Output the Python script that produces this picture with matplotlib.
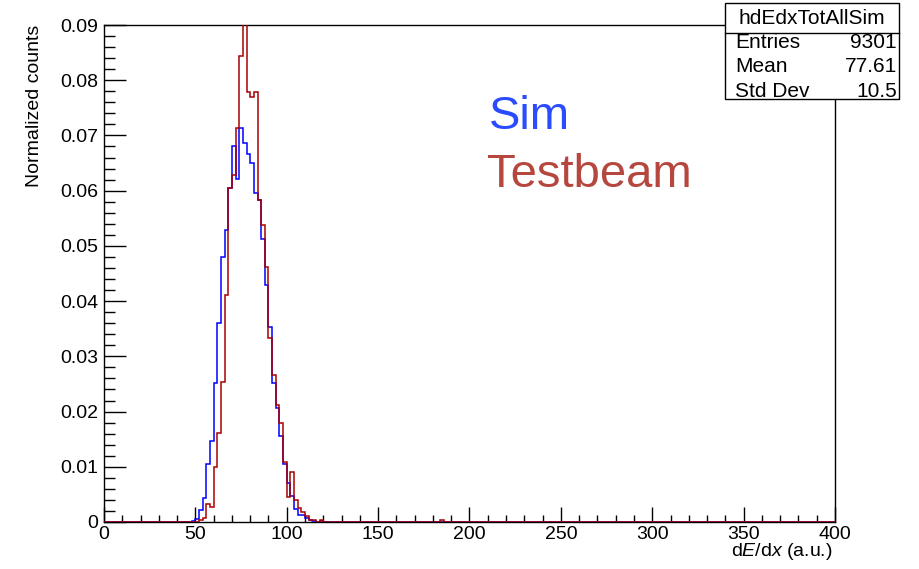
import numpy as np
import matplotlib
matplotlib.use("Agg")
import matplotlib.pyplot as plt
from matplotlib.patches import Rectangle
from matplotlib.lines import Line2D
from matplotlib.ticker import MultipleLocator, FuncFormatter

plt.rcParams['font.family'] = ['Liberation Sans', 'DejaVu Sans']
plt.rcParams['mathtext.fontset'] = 'custom'
plt.rcParams['mathtext.rm'] = 'Liberation Sans'
plt.rcParams['mathtext.it'] = 'Liberation Sans:italic'

# ---- data ----
bin_width = 2
x_min, x_max = 0, 400
region_start = 48  # first listed bin's lower edge
sim_values = [0.0002, 0.0005, 0.0022, 0.0044, 0.0105, 0.0147, 0.0251, 0.0360, 0.0479, 0.0528,
              0.0605, 0.0681, 0.0622, 0.0714, 0.0686, 0.0666, 0.0651, 0.0595, 0.0583, 0.0513,
              0.0429, 0.0353, 0.0252, 0.0207, 0.0155, 0.0105, 0.0070, 0.0047, 0.0023, 0.0013,
              0.0013, 0.0007, 0.0004, 0.0002, 0.0000, 0.0002]
tb_values = [0.0000, 0.0000, 0.0003, 0.0007, 0.0033, 0.0027, 0.0100, 0.0161, 0.0254, 0.0411,
             0.0605, 0.0628, 0.0713, 0.0843, 0.0925, 0.0779, 0.0769, 0.0778, 0.0583, 0.0537,
             0.0462, 0.0333, 0.0267, 0.0212, 0.0180, 0.0109, 0.0046, 0.0091, 0.0040, 0.0025,
             0.0019, 0.0010, 0.0004, 0.0004, 0.0000, 0.0004]
tb_extra_bin = 184
tb_extra_value = 0.0004

stats_title = "hdEdxTotAllSim"
stats_rows = [("Entries", "9301"), ("Mean", "77.61"), ("Std Dev", "10.5")]

edges = np.arange(x_min, x_max + bin_width, bin_width)
nb = len(edges) - 1
sim = np.zeros(nb)
tb = np.zeros(nb)
i0 = region_start // bin_width
sim[i0:i0 + len(sim_values)] = sim_values
tb[i0:i0 + len(tb_values)] = tb_values
tb[tb_extra_bin // bin_width] = tb_extra_value

# ---- figure ----
W, H = 920, 569
fig = plt.figure(figsize=(W / 100, H / 100), dpi=100)
L, R, T, B = 104, 835, 25, 522
ax = fig.add_axes([L / W, 1 - B / H, (R - L) / W, (B - T) / H])

ax.stairs(sim, edges, color='#0000ff', lw=1.1, zorder=3)
ax.stairs(tb, edges, color='#a80000', lw=1.1, zorder=4)

ax.set_xlim(x_min, x_max)
ax.set_ylim(0, 0.09)
ax.xaxis.set_major_locator(MultipleLocator(50))
ax.xaxis.set_minor_locator(MultipleLocator(10))
ax.yaxis.set_major_locator(MultipleLocator(0.01))
ax.yaxis.set_minor_locator(MultipleLocator(0.002))
ax.yaxis.set_major_formatter(FuncFormatter(lambda v, p: "0" if abs(v) < 1e-9 else f"{v:.2f}"))
ax.tick_params(axis='both', which='both', direction='in', top=False, right=False, width=1.0, color='black')
ax.tick_params(axis='x', which='major', length=14.7 * 0.72, labelsize=14, pad=3)
ax.tick_params(axis='x', which='minor', length=7 * 0.72)
ax.tick_params(axis='y', which='major', length=22 * 0.72, labelsize=14, pad=4)
ax.tick_params(axis='y', which='minor', length=11 * 0.72)
for s in ax.spines.values():
    s.set_linewidth(1.0)

fig.text(833 / W, 1 - 552 / H, r"d$\it{E}$/d$\it{x}$ (a.u.)", ha='right', va='center', fontsize=14)
fig.text(35 / W, 1 - T / H, "Normalized counts", rotation=90, ha='center', va='top', fontsize=14)

fig.text(489 / W, 1 - 129 / H, "Sim", color='#2a4bff', fontsize=34, ha='left', va='baseline')
fig.text(487 / W, 1 - 187 / H, "Testbeam", color='#b5473f', fontsize=34, ha='left', va='baseline')

# ---- stats box ----
bx0, bx1, by0, by1 = 725, 899, 3, 99
hdr = 33
fig.patches.append(Rectangle((bx0 / W, 1 - by1 / H), (bx1 - bx0) / W, (by1 - by0) / H,
                             transform=fig.transFigure, facecolor='white', edgecolor='black',
                             lw=1.0, zorder=10))
fig.lines.append(Line2D([bx0 / W, bx1 / W], [1 - hdr / H, 1 - hdr / H], transform=fig.transFigure,
                        color='black', lw=1.0, zorder=11))
fig.text((bx0 + bx1) / 2 / W, 1 - 18 / H, stats_title, ha='center', va='center', fontsize=15, zorder=12)
row_y = [43, 67, 91]
for (k, v), yy in zip(stats_rows, row_y):
    fig.text(735 / W, 1 - yy / H, k, ha='left', va='center', fontsize=15, zorder=12)
    fig.text(897 / W, 1 - yy / H, v, ha='right', va='center', fontsize=15, zorder=12)

fig.savefig("out.png", dpi=100)
